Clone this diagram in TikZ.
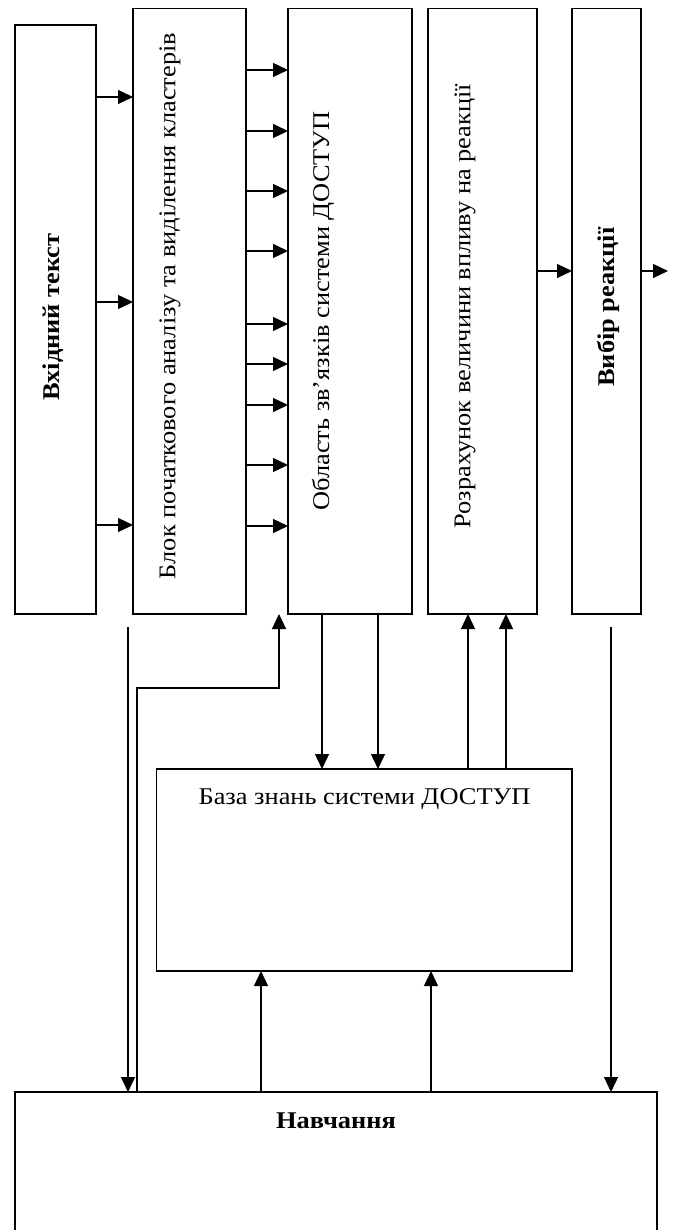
\documentclass[tikz,border=0pt]{standalone}
\usepackage{fontspec}
\setmainfont{Liberation Serif}[FakeStretch=1.1]
\usetikzlibrary{arrows.meta,calc}
\tikzset{
  blk/.style={draw=black,line width=1.7pt,rectangle,inner sep=0pt,outer sep=0pt,fill=white},
  txt/.style={inner sep=0pt,outer sep=0pt,font=\fontsize{24}{28}\selectfont},
  btxt/.style={txt,font=\fontsize{24}{28}\selectfont\bfseries},
  arr/.style={line width=1.3pt,-{Triangle[length=15pt,width=14pt]}},
}
\begin{document}
\begin{tikzpicture}[x=1pt,y=-1pt]
\useasboundingbox[fill=white] (0,0) rectangle (675,1230);
\begin{scope}
\clip (0,0) rectangle (675,1230);
% top row of blocks
\node[blk,minimum width=81pt,minimum height=589pt] (b1) at (55.5,319.5) {};
\node[blk,minimum width=113pt,minimum height=605.5pt] (b2) at (189.5,311.25) {};
\node[blk,minimum width=124pt,minimum height=605.5pt] (b3) at (350,311.25) {};
\node[blk,minimum width=109pt,minimum height=605.5pt] (b4) at (482.5,311.25) {};
\node[blk,minimum width=69pt,minimum height=605.5pt] (b5) at (606.5,311.25) {};
% lower blocks
\node[blk,minimum width=415.5pt,minimum height=202pt] (kb) at (364.25,870) {};
\node[blk,minimum width=642pt,minimum height=160pt] (nav) at (336,1172) {};
% texts
\node[btxt,rotate=90] (t1) at (53,317) {Вхідний текст};
\node[txt,rotate=90] (t2) at (170,306) {Блок початкового аналізу та виділення кластерів};
\node[txt,rotate=90] (t3) at (323,311) {Область зв’язків системи ДОСТУП};
\node[txt,rotate=90] (t4) at (465,306) {Розрахунок величини впливу на реакції};
\node[btxt,rotate=90] (t5) at (608,307) {Вибір реакції};
\node[txt] (tk) at (364.5,799) {База знань системи ДОСТУП};
\node[btxt] (tn) at (336,1121) {Навчання};
% arrows b1 -> b2
\foreach \yy in {97,302,525}
  \draw[arr] (b1.east |- 0,\yy) -- (b2.west |- 0,\yy);
% arrows b2 -> b3
\foreach \yy in {70,131,191,251,324,364,405,465,526}
  \draw[arr] (b2.east |- 0,\yy) -- (b3.west |- 0,\yy);
% b4 -> b5 -> out
\draw[arr] (b4.east |- 0,271) -- (b5.west |- 0,271);
\coordinate (out) at (668,271);
\draw[arr] (b5.east |- out) -- (out);
% b3 -> kb
\foreach \xx in {322,378}
  \draw[arr] (b3.south -| \xx,0) -- (kb.north -| \xx,0);
% kb -> b4
\foreach \xx in {468,506}
  \draw[arr] (kb.north -| \xx,0) -- (b4.south -| \xx,0);
% nav -> kb
\foreach \xx in {261,431}
  \draw[arr] (nav.north -| \xx,0) -- (kb.south -| \xx,0);
% feeds into nav
\coordinate (l1) at (128,627);
\draw[arr] (l1) -- (l1 |- nav.north);
\coordinate (r1) at (611,627);
\draw[arr] (r1) -- (r1 |- nav.north);
% nav -> b3 (jog)
\coordinate (j1) at (279,688);
\draw[arr] (nav.north -| 137,0) |- (j1) -- (b3.south -| j1);
\end{scope}
\end{tikzpicture}
\end{document}
